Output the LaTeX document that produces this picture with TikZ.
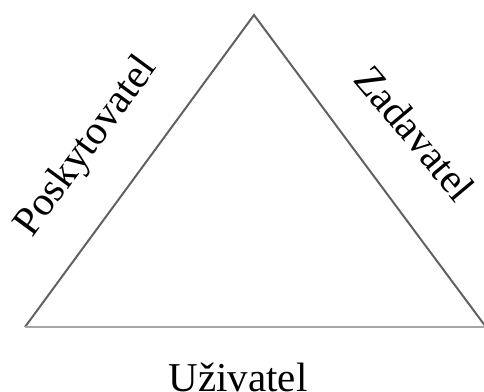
\documentclass[tikz,border=0pt]{standalone}
\usepackage{fontspec}
\setmainfont{Liberation Serif}
\begin{document}
\begin{tikzpicture}[x=1pt,y=1pt,
  edge/.style={draw=black!62, line width=2pt},
  baseedge/.style={draw=black!35, line width=2.6pt},
  lbl/.style={font=\fontsize{41}{44}\selectfont, inner sep=0pt}]
\useasboundingbox (0,0) rectangle (484,391);
\coordinate (top) at (254,376);
\coordinate (bl) at (25,64);
\coordinate (br) at (486,64);
\draw[edge] (bl) -- (top) -- (br);
\draw[baseedge] (bl) -- (br);
\node[lbl, rotate=53.7] (posk) at (87,244) {Poskytovatel};
\node[lbl, rotate=-50] (zad) at (415,258) {Zadavatel};
\node[lbl, anchor=base] (uziv) at (238,0) {Uživatel};
\end{tikzpicture}
\end{document}
